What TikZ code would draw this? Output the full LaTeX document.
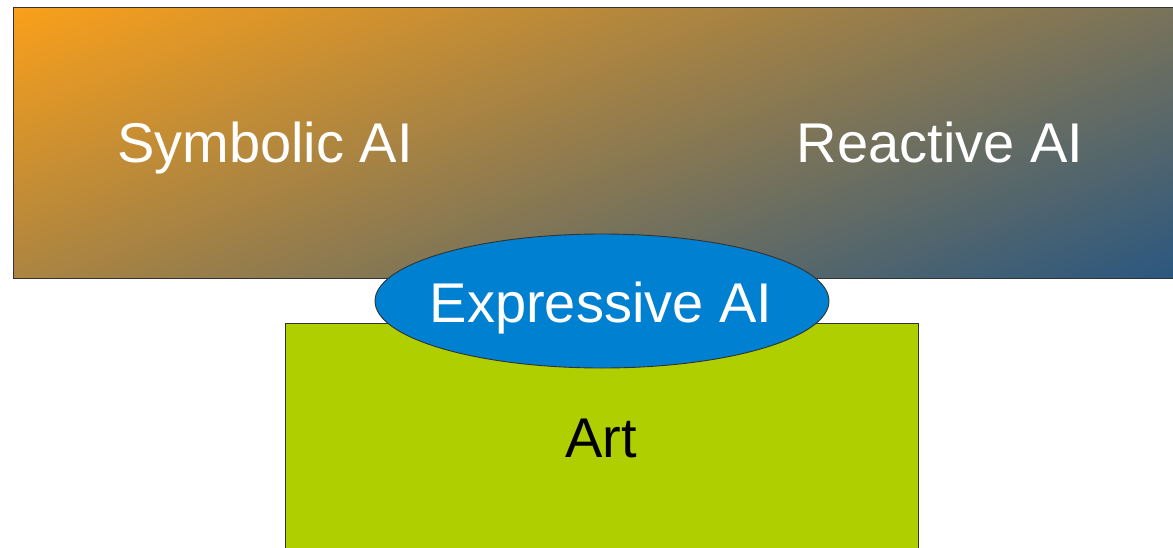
\documentclass[tikz,border=0pt]{standalone}
\usepackage{fontspec}
\setmainfont{Liberation Sans}
\usetikzlibrary{shapes.geometric}
\definecolor{warmorange}{HTML}{FAA01A}
\definecolor{deepblue}{HTML}{0A4C90}
\definecolor{ovalblue}{HTML}{0080D0}
\definecolor{artgreen}{HTML}{AFCF00}
\definecolor{edgegray}{HTML}{333333}
\begin{document}
\begin{tikzpicture}[x=1pt,y=-1pt,
  panel/.style={draw=edgegray, line width=0.9pt},
  biglabel/.style={font=\fontsize{56}{60}\selectfont, anchor=base, inner sep=0pt}]
\useasboundingbox (0,0) rectangle (1173,547);
\clip (0,0) rectangle (1173,547);
% AI field band: linear orange-to-blue ramp running down and to the right
\begin{scope}
  \clip (13,7) rectangle (1185,278);
  \begin{scope}[transform canvas={shift={(13,7)}, rotate=-68.9}]
    \shade[left color=warmorange, right color=deepblue]
      (0,-1600) rectangle (776,1600);
  \end{scope}
\end{scope}
\draw[panel] (1185,7) -- (13,7) -- (13,278) -- (1185,278);
% art field
\node[panel, fill=artgreen, anchor=north west, minimum width=633pt,
  minimum height=240pt, inner sep=0pt] (art) at (285,323) {};
% overlap ellipse
\node[panel, ellipse, fill=ovalblue, minimum width=454pt, minimum height=134pt,
  inner sep=0pt] (expr) at (602,301) {};
\node[biglabel, text=white] (sym) at (265,162) {Symbolic AI};
\node[biglabel, text=white] (react) at (940,162) {Reactive AI};
\node[biglabel, text=white] (exprlabel) at (601,322) {Expressive AI};
\node[biglabel, text=black] (artlabel) at (601,457) {Art};
\end{tikzpicture}
\end{document}
